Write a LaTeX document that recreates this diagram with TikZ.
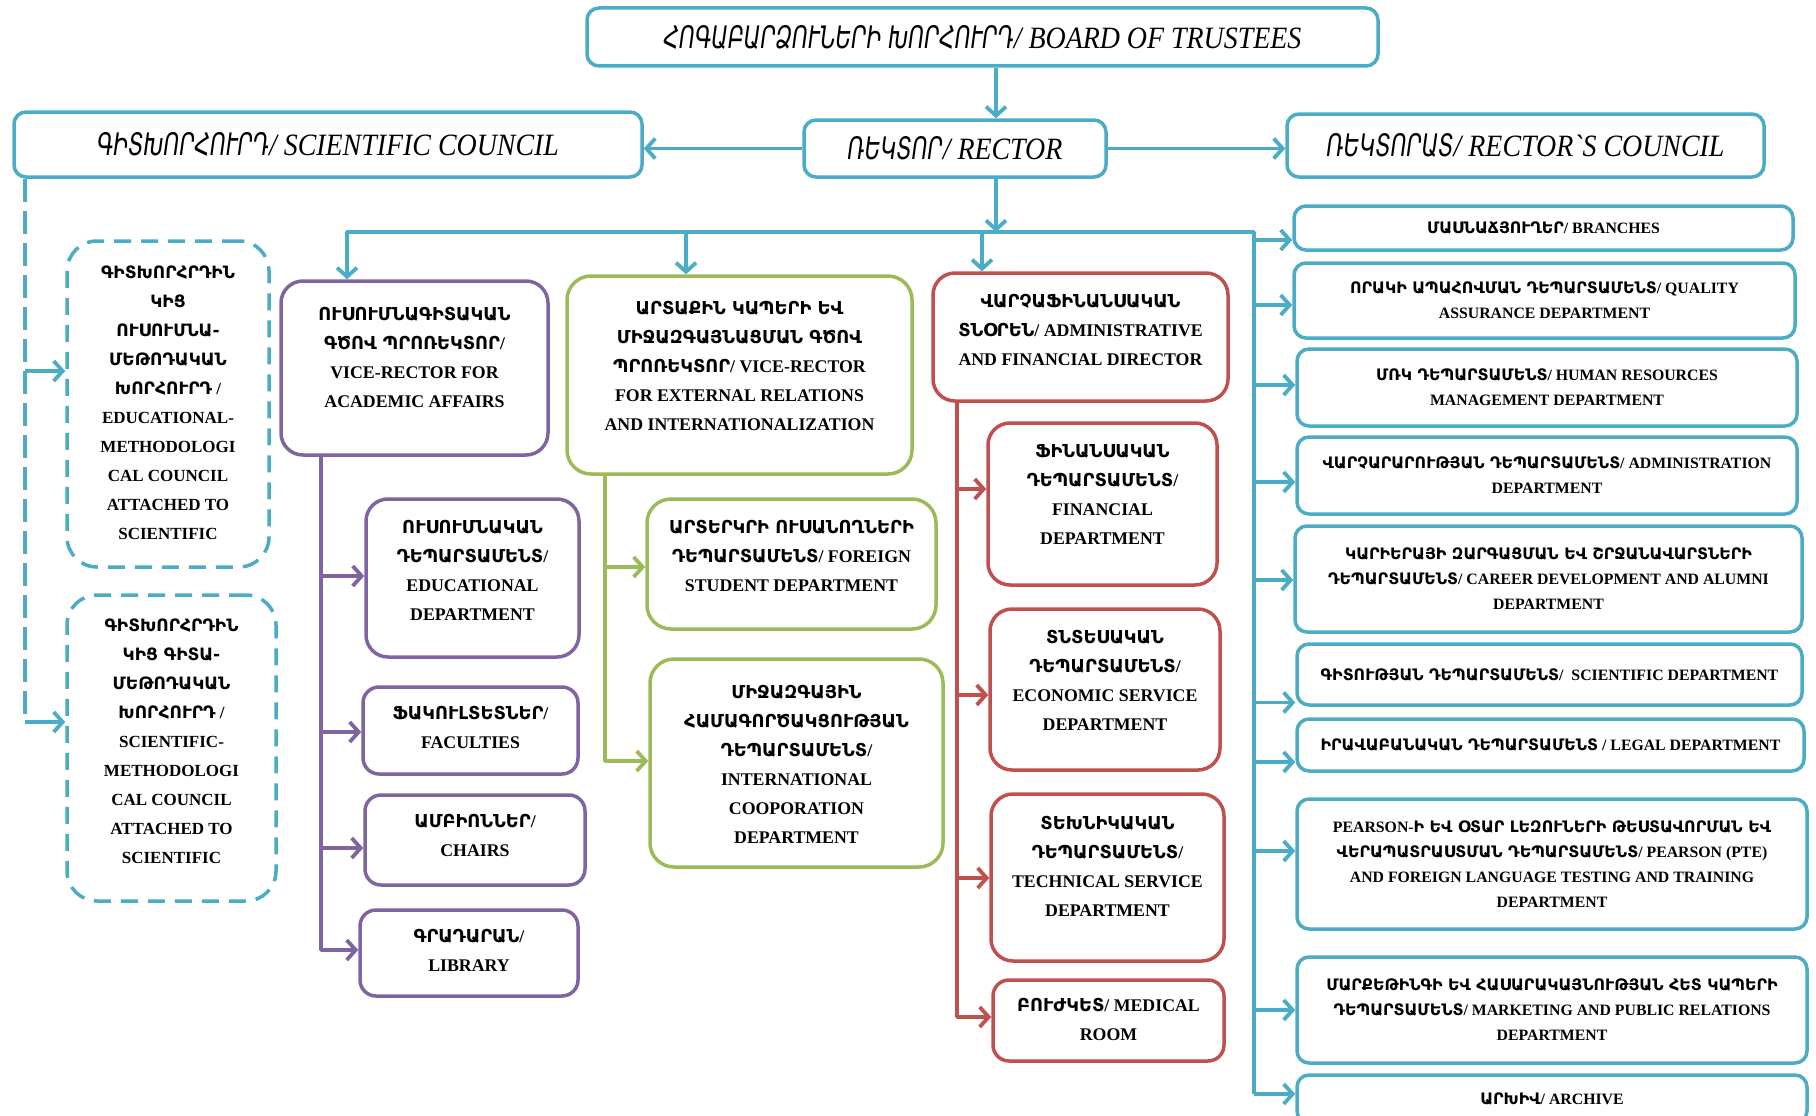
\documentclass[tikz,border=0pt]{standalone}
\usepackage{fontspec}
\setmainfont{Liberation Serif}
\newfontfamily\armfont{DejaVu Sans}
\newfontfamily\armH[FakeStretch=0.7]{DejaVu Sans}
\newfontfamily\latH[FakeStretch=0.9]{Liberation Serif}
\usetikzlibrary{arrows.meta,calc}
\newcommand{\A}[1]{{\armfont #1}}
\newcommand{\AH}[1]{{\armH #1}}
\definecolor{cblue}{HTML}{4BACC6}
\definecolor{cpurple}{HTML}{8064A2}
\definecolor{cgreen}{HTML}{9BBB59}
\definecolor{cred}{HTML}{C0504D}
\begin{document}
\begin{tikzpicture}[x=1pt,y=-1pt,
  boxbase/.style={line width=3.5pt, fill=white, inner sep=0pt, align=center},
  hbox/.style={boxbase, draw=cblue, rounded corners=12pt, font=\latH\itshape\fontsize{31}{34}\selectfont},
  sbox/.style={boxbase, draw=cblue, rounded corners=12pt, font=\fontsize{15.8}{25}\selectfont\bfseries},
  pbox/.style={boxbase, draw=cpurple, rounded corners=22pt},
  gbox/.style={boxbase, draw=cgreen, rounded corners=24pt},
  rbox/.style={boxbase, draw=cred, rounded corners=22pt},
  dbox/.style={boxbase, draw=cblue, rounded corners=30pt, dash pattern=on 17pt off 10pt},
  bt/.style={align=center, inner sep=0pt, font=\fontsize{17.8}{29}\selectfont\bfseries},
  dt/.style={align=center, inner sep=0pt, font=\fontsize{17}{29}\selectfont\bfseries},
  tip/.style={-{Straight Barb[length=9pt,width=20pt]}},
  barrow/.style={draw=cblue, line width=3.8pt, line join=round, tip},
  parrow/.style={draw=cpurple, line width=3.8pt, line join=round, tip},
  garrow/.style={draw=cgreen, line width=3.8pt, line join=round, tip},
  rarrow/.style={draw=cred, line width=3.8pt, line join=round, tip},
  bdashline/.style={draw=cblue, line width=3.8pt, dash pattern=on 23pt off 9pt}
]
\useasboundingbox (0,0) rectangle (1816,1116);

% ---------- top row ----------
\node[hbox, minimum width=791, minimum height=58] (board) at (982.5,37)
  {\AH{ՀՈԳԱԲԱՐՁՈՒՆԵՐԻ ԽՈՐՀՈՒՐԴ}/ BOARD OF TRUSTEES};
\node[hbox, minimum width=628, minimum height=65] (sci) at (328,144.5)
  {\AH{ԳԻՏԽՈՐՀՈՒՐԴ}/ SCIENTIFIC COUNCIL};
\node[hbox, minimum width=302, minimum height=57] (rector) at (955,148.5)
  {\AH{ՌԵԿՏՈՐ}/ RECTOR};
\node[hbox, minimum width=477, minimum height=63] (rc) at (1525.5,145.5)
  {\AH{ՌԵԿՏՈՐԱՏ}/ RECTOR`S COUNCIL};

% ---------- dashed councils ----------
\node[dbox, minimum width=202, minimum height=326] (d1) at (168,404) {};
\node[dt] (d1t) at (168,403) {\A{ԳԻՏԽՈՐՀՐԴԻՆ}\\\A{ԿԻՑ}\\\A{ՈՒՍՈՒՄՆԱ-}\\\A{ՄԵԹՈԴԱԿԱՆ}\\\A{ԽՈՐՀՈՒՐԴ} /\\EDUCATIONAL-\\METHODOLOGI\\CAL COUNCIL\\ATTACHED TO\\SCIENTIFIC};
\node[dbox, minimum width=209, minimum height=306] (d2) at (171.5,748) {};
\node[dt] (d2t) at (171.5,741) {\A{ԳԻՏԽՈՐՀՐԴԻՆ}\\\A{ԿԻՑ ԳԻՏԱ-}\\\A{ՄԵԹՈԴԱԿԱՆ}\\\A{ԽՈՐՀՈՒՐԴ} /\\SCIENTIFIC-\\METHODOLOGI\\CAL COUNCIL\\ATTACHED TO\\SCIENTIFIC};

% ---------- purple column ----------
\node[pbox, minimum width=267, minimum height=174] (vra) at (414.5,368) {};
\node[bt] (vrat) at (414.5,357) {\A{ՈՒՍՈՒՄՆԱԳԻՏԱԿԱՆ}\\\A{ԳԾՈՎ ՊՐՈՌԵԿՏՈՐ}/\\VICE-RECTOR FOR\\ACADEMIC AFFAIRS};
\node[pbox, minimum width=213, minimum height=158] (edu) at (472.5,578) {};
\node[bt] (edut) at (472.5,570) {\A{ՈՒՍՈՒՄՆԱԿԱՆ}\\\A{ԴԵՊԱՐՏԱՄԵՆՏ}/\\EDUCATIONAL\\DEPARTMENT};
\node[pbox, rounded corners=16pt, minimum width=215, minimum height=87] (fac) at (470.5,730.5) {};
\node[bt] (fact) at (470.5,727) {\A{ՖԱԿՈՒԼՏԵՏՆԵՐ}/\\FACULTIES};
\node[pbox, rounded corners=16pt, minimum width=220, minimum height=90] (chr) at (475,840) {};
\node[bt] (chrt) at (475,835) {\A{ԱՄԲԻՈՆՆԵՐ}/\\CHAIRS};
\node[pbox, rounded corners=16pt, minimum width=218, minimum height=86] (lib) at (469,953) {};
\node[bt] (libt) at (469,950) {\A{ԳՐԱԴԱՐԱՆ}/\\LIBRARY};

% ---------- green column ----------
\node[gbox, minimum width=345, minimum height=198] (vre) at (739.5,375) {};
\node[bt] (vret) at (739.5,366) {\A{ԱՐՏԱՔԻՆ ԿԱՊԵՐԻ ԵՎ}\\\A{ՄԻՋԱԶԳԱՅՆԱՑՄԱՆ ԳԾՈՎ}\\\A{ՊՐՈՌԵԿՏՈՐ}/ VICE-RECTOR\\FOR EXTERNAL RELATIONS\\AND INTERNATIONALIZATION};
\node[gbox, minimum width=289, minimum height=130] (fsd) at (791.5,564) {};
\node[bt] (fsdt) at (791.5,556) {\A{ԱՐՏԵՐԿՐԻ ՈՒՍԱՆՈՂՆԵՐԻ}\\\A{ԴԵՊԱՐՏԱՄԵՆՏ}/ FOREIGN\\STUDENT DEPARTMENT};
\node[gbox, minimum width=293, minimum height=208] (icd) at (796.5,763) {};
\node[bt] (icdt) at (796.5,764) {\A{ՄԻՋԱԶԳԱՅԻՆ}\\\A{ՀԱՄԱԳՈՐԾԱԿՑՈՒԹՅԱՆ}\\\A{ԴԵՊԱՐՏԱՄԵՆՏ}/\\INTERNATIONAL\\COOPORATION\\DEPARTMENT};

% ---------- red column ----------
\node[rbox, minimum width=295, minimum height=128] (afd) at (1080.5,337) {};
\node[bt] (afdt) at (1080.5,330) {\A{ՎԱՐՉԱՖԻՆԱՆՍԱԿԱՆ}\\\A{ՏՆՕՐԵՆ}/ ADMINISTRATIVE\\AND FINANCIAL DIRECTOR};
\node[rbox, minimum width=229, minimum height=162] (fin) at (1102.5,504) {};
\node[bt] (fint) at (1102.5,495) {\A{ՖԻՆԱՆՍԱԿԱՆ}\\\A{ԴԵՊԱՐՏԱՄԵՆՏ}/\\FINANCIAL\\DEPARTMENT};
\node[rbox, minimum width=230, minimum height=161] (eco) at (1105,689.5) {};
\node[bt] (ecot) at (1105,680) {\A{ՏՆՏԵՍԱԿԱՆ}\\\A{ԴԵՊԱՐՏԱՄԵՆՏ}/\\ECONOMIC SERVICE\\DEPARTMENT};
\node[rbox, minimum width=233, minimum height=167] (tech) at (1107.5,877.5) {};
\node[bt] (techt) at (1107.5,866) {\A{ՏԵԽՆԻԿԱԿԱՆ}\\\A{ԴԵՊԱՐՏԱՄԵՆՏ}/\\TECHNICAL SERVICE\\DEPARTMENT};
\node[rbox, rounded corners=16pt, minimum width=231, minimum height=81] (med) at (1108.5,1020.5) {};
\node[bt] (medt) at (1108.5,1019) {\A{ԲՈՒԺԿԵՏ}/ MEDICAL\\ROOM};

% ---------- right column ----------
\node[sbox, minimum width=499, minimum height=44] (br) at (1543.5,228) {\A{ՄԱՍՆԱՃՅՈՒՂԵՐ}/ BRANCHES};
\node[sbox, minimum width=501, minimum height=75] (qa) at (1544.5,300.5) {\A{ՈՐԱԿԻ ԱՊԱՀՈՎՄԱՆ ԴԵՊԱՐՏԱՄԵՆՏ}/ QUALITY\\ASSURANCE DEPARTMENT};
\node[sbox, minimum width=500, minimum height=77] (hr) at (1547,387.5) {\A{ՄՌԿ ԴԵՊԱՐՏԱՄԵՆՏ}/ HUMAN RESOURCES\\MANAGEMENT DEPARTMENT};
\node[sbox, minimum width=500, minimum height=77] (adm) at (1547,475.5) {\A{ՎԱՐՉԱՐԱՐՈՒԹՅԱՆ ԴԵՊԱՐՏԱՄԵՆՏ}/ ADMINISTRATION\\DEPARTMENT};
\node[sbox, minimum width=507, minimum height=106] (car) at (1548.5,579) {\A{ԿԱՐԻԵՐԱՅԻ ԶԱՐԳԱՑՄԱՆ ԵՎ ՇՐՋԱՆԱՎԱՐՏՆԵՐԻ}\\\A{ԴԵՊԱՐՏԱՄԵՆՏ}/ CAREER DEVELOPMENT AND ALUMNI\\DEPARTMENT};
\node[sbox, minimum width=505, minimum height=61] (scd) at (1549.5,674.5) {\A{ԳԻՏՈՒԹՅԱՆ ԴԵՊԱՐՏԱՄԵՆՏ}/\ \ SCIENTIFIC DEPARTMENT};
\node[sbox, minimum width=507, minimum height=52] (leg) at (1550.5,745) {\A{ԻՐԱՎԱԲԱՆԱԿԱՆ ԴԵՊԱՐՏԱՄԵՆՏ} / LEGAL DEPARTMENT};
\node[sbox, minimum width=510, minimum height=130] (pe) at (1552,864) {PEARSON-\A{Ի ԵՎ ՕՏԱՐ ԼԵԶՈՒՆԵՐԻ ԹԵՍՏԱՎՈՐՄԱՆ ԵՎ}\\\A{ՎԵՐԱՊԱՏՐԱՍՏՄԱՆ ԴԵՊԱՐՏԱՄԵՆՏ}/ PEARSON (PTE)\\AND FOREIGN LANGUAGE TESTING AND TRAINING\\DEPARTMENT};
\node[sbox, minimum width=510, minimum height=106] (mk) at (1552,1010) {\A{ՄԱՐՔԵԹԻՆԳԻ ԵՎ ՀԱՍԱՐԱԿԱՅՆՈՒԹՅԱՆ ՀԵՏ ԿԱՊԵՐԻ}\\\A{ԴԵՊԱՐՏԱՄԵՆՏ}/ MARKETING AND PUBLIC RELATIONS\\DEPARTMENT};
\node[sbox, minimum width=510, minimum height=48] (ar) at (1552,1099) {\A{ԱՐԽԻՎ}/ ARCHIVE};

% ---------- connectors: top ----------
\coordinate (rx) at (996,0);
\coordinate (busL) at (347,232);
\coordinate (busR) at (1254,232);
\coordinate (rvEnd) at (1254,1094);
\coordinate (gx) at (686,0);
\coordinate (rdx) at (982,0);
\draw[barrow] (board.south -| rx) -- (rector.north -| rx);
\draw[barrow] (rector.west) -- (rector.west -| sci.east);
\draw[barrow] (rector.east) -- (rector.east -| rc.west);
\draw[barrow] (rector.south -| rx) -- (rx |- busL);
\draw[barrow] (rvEnd) -- (busR) -- (busL) -- (busL |- vra.north);
\draw[barrow] (gx |- busL) -- (gx |- vre.north);
\draw[barrow] (rdx |- busL) -- (rdx |- afd.north);

% ---------- right column arrows ----------
\coordinate (pbr) at ($(br.west)+(0,12)$);
\coordinate (pqa) at ($(qa.west)+(0,4.5)$);
\coordinate (phr) at ($(hr.west)+(0,-2.5)$);
\coordinate (padm) at ($(adm.west)+(0,6.5)$);
\coordinate (pcar) at ($(car.west)+(0,1)$);
\coordinate (pscd) at ($(scd.west)+(0,28)$);
\coordinate (pleg) at ($(leg.west)+(0,17)$);
\coordinate (ppe) at ($(pe.west)+(0,-13)$);
\coordinate (pmk) at ($(mk.west)+(0,0)$);
\coordinate (par) at ($(ar.west)+(0,-5)$);
\foreach \p in {pbr,pqa,phr,padm,pcar,pscd,pleg,ppe,pmk,par}
  \draw[barrow] (busR |- \p) -- (\p);

% ---------- scientific council branch ----------
\coordinate (dEnd) at (25,722);
\coordinate (pd1) at ($(d1.west)+(0,-33)$);
\coordinate (pd2) at ($(d2.west)+(0,-26)$);
\draw[bdashline] (sci.south -| dEnd) -- (dEnd);
\draw[barrow] (dEnd |- pd1) -- (pd1);
\draw[barrow] (dEnd |- pd2) -- (pd2);

% ---------- purple branch ----------
\coordinate (pv) at (321,950);
\coordinate (pedu) at ($(edu.west)+(0,-2)$);
\coordinate (pfac) at ($(fac.west)+(0,1.5)$);
\coordinate (pchr) at ($(chr.west)+(0,8)$);
\draw[parrow] (vra.south -| pv) -- (pv) -- (pv -| lib.west);
\draw[parrow] (pv |- pedu) -- (pedu);
\draw[parrow] (pv |- pfac) -- (pfac);
\draw[parrow] (pv |- pchr) -- (pchr);

% ---------- green branch ----------
\coordinate (gv) at (605,761);
\coordinate (pfsd) at ($(fsd.west)+(0,3)$);
\draw[garrow] (vre.south -| gv) -- (gv) -- (gv -| icd.west);
\draw[garrow] (gv |- pfsd) -- (pfsd);

% ---------- red branch ----------
\coordinate (rv) at (957,1017);
\coordinate (pfin) at ($(fin.west)+(0,-15)$);
\coordinate (peco) at ($(eco.west)+(0,5.5)$);
\coordinate (ptech) at ($(tech.west)+(0,0.5)$);
\draw[rarrow] (afd.south -| rv) -- (rv) -- (rv -| med.west);
\draw[rarrow] (rv |- pfin) -- (pfin);
\draw[rarrow] (rv |- peco) -- (peco);
\draw[rarrow] (rv |- ptech) -- (ptech);
\end{tikzpicture}
\end{document}
